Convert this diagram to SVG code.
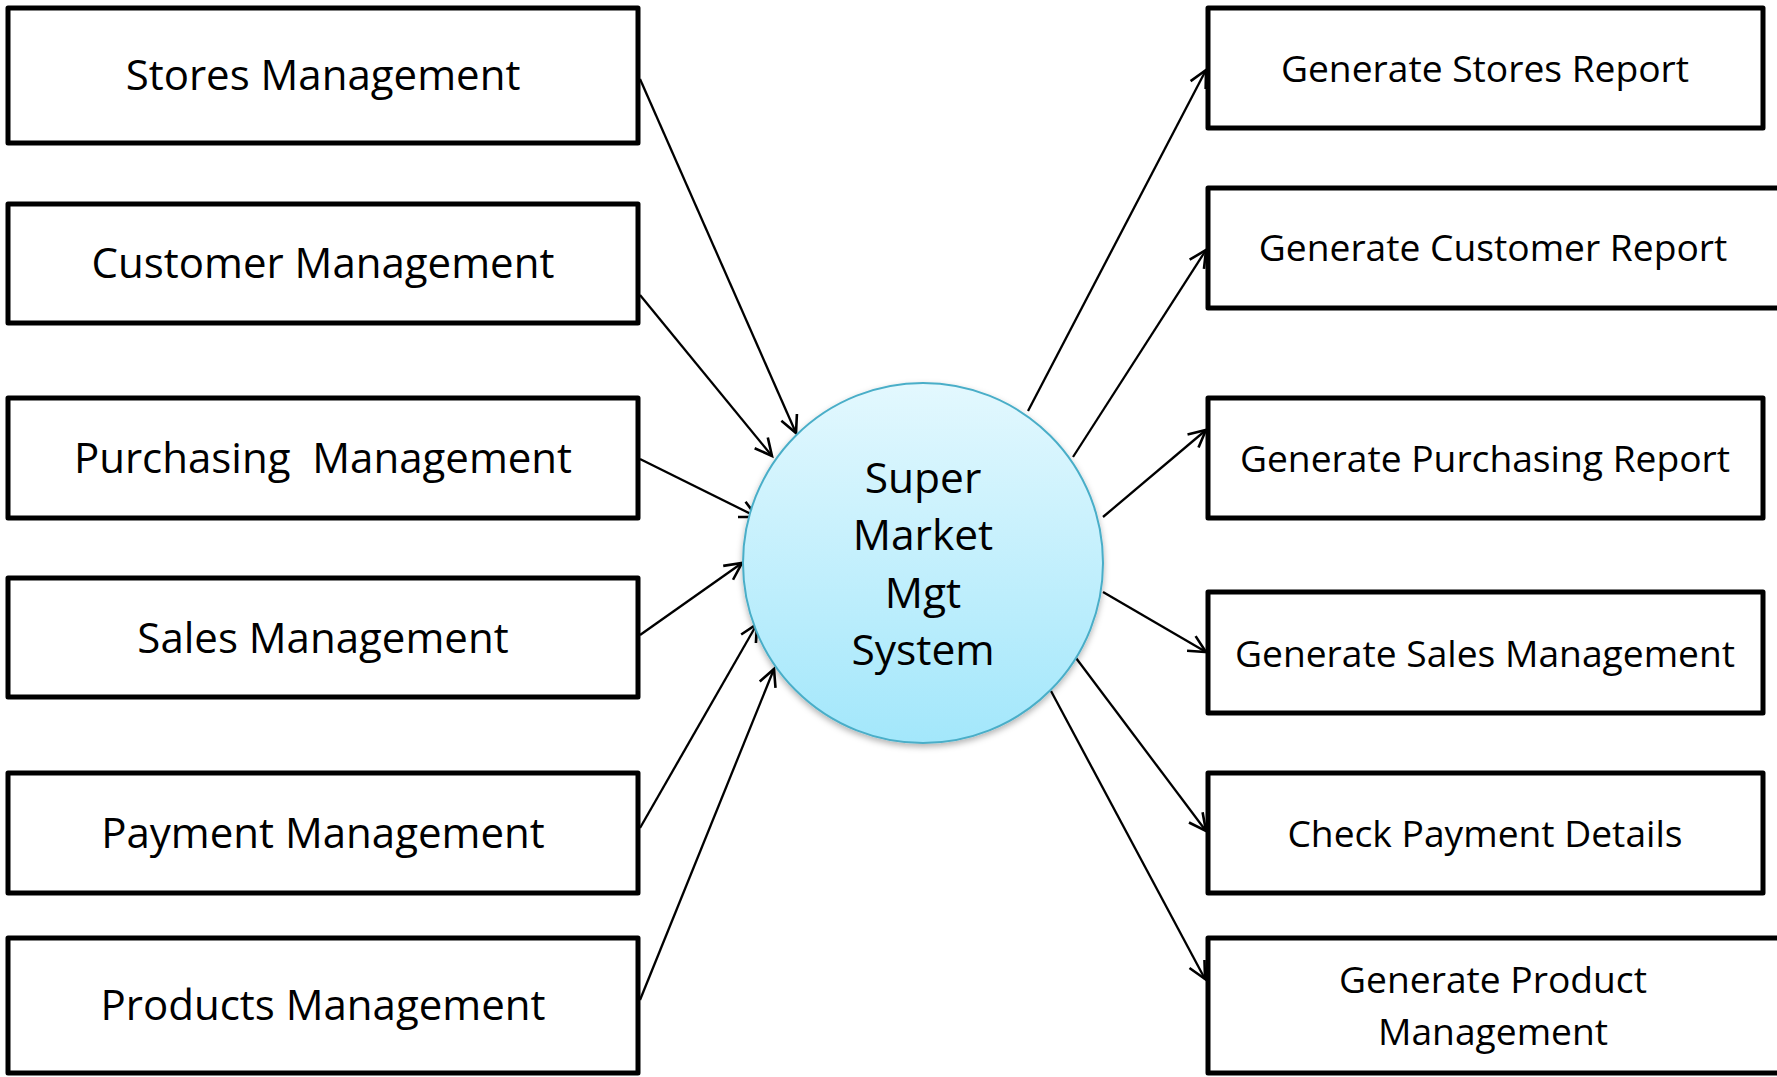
<svg xmlns="http://www.w3.org/2000/svg" width="1777" height="1077" viewBox="0 0 1777 1077">
<defs>
<style>
.box{fill:#fff;stroke:#000;stroke-width:5;stroke-linejoin:round}
.lt{font-family:"Open Sans","Noto Sans",sans-serif;font-size:42px;fill:#000;text-anchor:middle;white-space:pre}
.rt{font-family:"Open Sans","Noto Sans",sans-serif;font-size:37.2px;fill:#000;text-anchor:middle;white-space:pre}
.ct{font-family:"Open Sans","Noto Sans",sans-serif;font-size:42.5px;fill:#000;text-anchor:middle}
.con{stroke:#000;stroke-width:2.3;fill:none;marker-end:url(#arr)}
</style>
<marker id="arr" markerUnits="userSpaceOnUse" viewBox="-20 -12 24 24" refX="0" refY="0" markerWidth="24" markerHeight="24" orient="auto">
<path d="M-17,-8.5 L0,0 L-17,8.5" fill="none" stroke="#000" stroke-width="2.6" stroke-linejoin="miter"/>
</marker>
<linearGradient id="cg" x1="0" y1="0" x2="0" y2="1">
<stop offset="0" stop-color="#e3f8fe"/>
<stop offset="1" stop-color="#a3e7fb"/>
</linearGradient>
<filter id="sh" x="-20%" y="-20%" width="140%" height="140%">
<feDropShadow dx="0" dy="3" stdDeviation="3" flood-color="#000" flood-opacity="0.3"/>
</filter>
</defs>

<g id="connectors">
<line class="con" x1="640" y1="79" x2="796" y2="433"/>
<line class="con" x1="640" y1="295" x2="772" y2="456"/>
<line class="con" x1="640" y1="459" x2="757" y2="517"/>
<line class="con" x1="640" y1="635" x2="742" y2="563"/>
<line class="con" x1="640" y1="828" x2="757" y2="624"/>
<line class="con" x1="640" y1="1000" x2="774" y2="669"/>
<line class="con" x1="1028" y1="411" x2="1206" y2="70"/>
<line class="con" x1="1073" y1="457" x2="1206" y2="250"/>
<line class="con" x1="1103" y1="517" x2="1206" y2="430"/>
<line class="con" x1="1103" y1="592" x2="1206" y2="652"/>
<line class="con" x1="1073" y1="654" x2="1206" y2="831"/>
<line class="con" x1="1051" y1="691" x2="1205" y2="979"/>
</g>

<g id="center">
<circle cx="923" cy="563" r="180" fill="url(#cg)" stroke="#4aaec8" stroke-width="2" filter="url(#sh)"/>
<text class="ct" x="923" y="493">Super</text>
<text class="ct" x="923" y="550">Market</text>
<text class="ct" x="923" y="608">Mgt</text>
<text class="ct" x="923" y="665">System</text>
</g>

<g id="stores-mgmt"><rect class="box" x="8" y="8" width="630" height="135"/><text class="lt" x="323" y="90">Stores Management</text></g>
<g id="customer-mgmt"><rect class="box" x="8" y="204" width="630" height="119"/><text class="lt" x="323" y="278">Customer Management</text></g>
<g id="purchasing-mgmt"><rect class="box" x="8" y="398" width="630" height="120"/><text class="lt" x="323" y="473">Purchasing  Management</text></g>
<g id="sales-mgmt"><rect class="box" x="8" y="578" width="630" height="119"/><text class="lt" x="323" y="653">Sales Management</text></g>
<g id="payment-mgmt"><rect class="box" x="8" y="773" width="630" height="120"/><text class="lt" x="323" y="848">Payment Management</text></g>
<g id="products-mgmt"><rect class="box" x="8" y="938" width="630" height="135"/><text class="lt" x="323" y="1020">Products Management</text></g>

<g id="gen-stores"><rect class="box" x="1208" y="8" width="555" height="120"/><text class="rt" x="1485" y="82">Generate Stores Report</text></g>
<g id="gen-customer"><rect class="box" x="1208" y="188" width="575" height="120"/><text class="rt" x="1493" y="261">Generate Customer Report</text></g>
<g id="gen-purchasing"><rect class="box" x="1208" y="398" width="555" height="120"/><text class="rt" x="1485" y="472">Generate Purchasing Report</text></g>
<g id="gen-sales"><rect class="box" x="1208" y="592" width="555" height="121"/><text class="rt" x="1485" y="667">Generate Sales Management</text></g>
<g id="check-payment"><rect class="box" x="1208" y="773" width="555" height="120"/><text class="rt" x="1485" y="847">Check Payment Details</text></g>
<g id="gen-product"><rect class="box" x="1208" y="938" width="575" height="135"/><text class="rt" x="1493" y="993">Generate Product</text><text class="rt" x="1493" y="1045">Management</text></g>
</svg>
